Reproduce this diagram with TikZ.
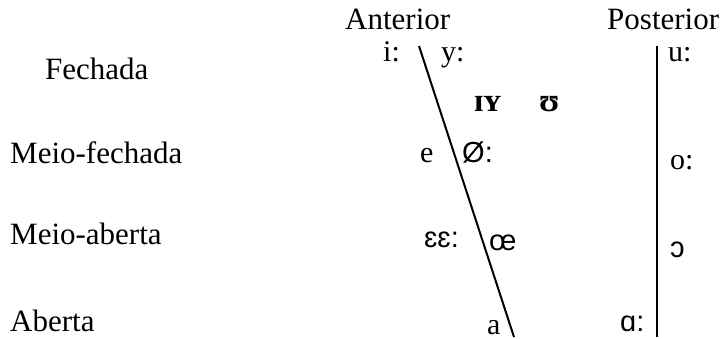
\documentclass[tikz,border=0pt]{standalone}
\usepackage{fontspec}
\setmainfont{Liberation Serif}
\newfontfamily\ipasans{Liberation Sans}
\begin{document}
\begin{tikzpicture}[x=1pt,y=-1pt,
  lbl/.style={inner sep=0pt, anchor=base west, font=\fontsize{31}{36}\selectfont},
  sym/.style={inner sep=0pt, anchor=base west, font=\fontsize{30}{36}\selectfont},
  ssym/.style={inner sep=0pt, anchor=base west, font=\ipasans\fontsize{29}{34}\selectfont},
  bsym/.style={inner sep=0pt, anchor=base west, font=\bfseries\fontsize{33}{38}\selectfont},
  axis/.style={line width=2pt, black}]
\useasboundingbox (0,0) rectangle (725,339);
% row labels
\node[lbl] (fech) at (45,80) {Fechada};
\node[lbl] (mfech) at (10,164) {Meio-fechada};
\node[lbl] (maber) at (10,244) {Meio-aberta};
\node[lbl] (aber) at (10,331) {Aberta};
% column labels
\node[lbl] (ant) at (345,30) {Anterior};
\node[lbl] (post) at (607,30) {Posterior};
% lines
\coordinate (l1a) at (419,46);
\coordinate (l1b) at (514,337);
\coordinate (l2a) at (657,46);
\coordinate (l2b) at (657,337);
\draw[axis] (l1a) -- (l1b);
\draw[axis] (l2a) -- (l2b);
% vowels
\node[sym] (i) at (383,62) {i:};
\node[sym] (y) at (441,62) {y:};
\node[sym] (u) at (668,62) {u:};
\node[bsym] (IY) at (474,112) {ɪʏ};
\node[bsym] (U) at (539,112) {ʊ};
\node[sym] (e) at (420,163) {e};
\node[ssym] (oe) at (462,163) {Ø:};
\node[sym] (o) at (670,170) {o:};
\node[ssym] (eps) at (424,247) {ɛɛ:};
\node[ssym] (oelig) at (489,250) {œ};
\node[ssym] (open) at (670,257) {ɔ};
\node[sym] (a) at (487,334) {a};
\node[ssym] (alpha) at (620,331) {ɑ:};
\end{tikzpicture}
\end{document}
